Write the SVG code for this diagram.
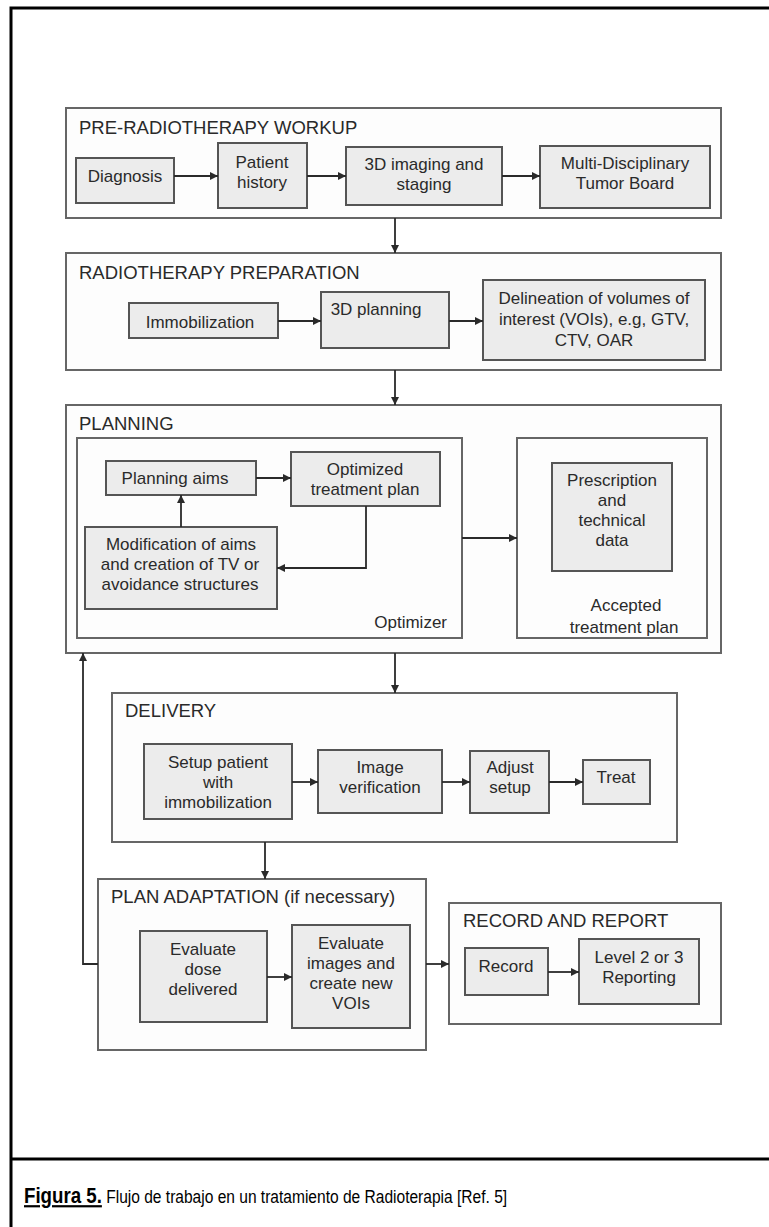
<svg xmlns="http://www.w3.org/2000/svg" width="769" height="1227" viewBox="0 0 769 1227">
<style>
.sec{fill:#fdfdfd;stroke:#666;stroke-width:2}
.box{fill:#ececec;stroke:#555;stroke-width:2}
.t{font-family:"Liberation Sans",Arial,sans-serif;font-size:17px;fill:#2a2a2a;text-anchor:middle}
.h{font-family:"Liberation Sans",Arial,sans-serif;font-size:18.5px;fill:#2a2a2a}
.c{fill:none;stroke:#2a2a2a;stroke-width:1.8}
.cap{font-family:"Liberation Sans Narrow","Liberation Sans",Arial,sans-serif;font-size:18.3px;fill:#000}
</style>
<defs>
<marker id="ah" viewBox="0 0 10 10" refX="10" refY="5" markerWidth="9" markerHeight="8" markerUnits="userSpaceOnUse" orient="auto"><path d="M0,0 L10,5 L0,10 z" fill="#2a2a2a"/></marker>
</defs>
<rect width="769" height="1227" fill="#fff"/>
<g id="frame">
<path d="M11,1227 V8 H769" fill="none" stroke="#000" stroke-width="3"/>
<path d="M11,1159 H769" fill="none" stroke="#000" stroke-width="3"/>
</g>

<g id="pre">
<rect class="sec" x="66" y="108" width="655" height="110"/>
<text class="h" x="79" y="134">PRE-RADIOTHERAPY WORKUP</text>
</g>
<g id="diagnosis"><rect class="box" x="76" y="158" width="98" height="45"/><text class="t" x="125" y="182">Diagnosis</text></g>
<g id="history"><rect class="box" x="218" y="143" width="89" height="65"/><text class="t" x="262" y="168">Patient</text><text class="t" x="262" y="188">history</text></g>
<g id="imaging"><rect class="box" x="346" y="147" width="156" height="58"/><text class="t" x="424" y="170">3D imaging and</text><text class="t" x="424" y="190">staging</text></g>
<g id="board"><rect class="box" x="540" y="146" width="170" height="62"/><text class="t" x="625" y="169">Multi-Disciplinary</text><text class="t" x="625" y="189">Tumor Board</text></g>

<g id="prep">
<rect class="sec" x="66" y="253" width="655" height="117"/>
<text class="h" x="79" y="279">RADIOTHERAPY PREPARATION</text>
</g>
<g id="immobilization"><rect class="box" x="129" y="303" width="149" height="35"/><text class="t" x="200" y="328">Immobilization</text></g>
<g id="planning3d"><rect class="box" x="321" y="292" width="128" height="56"/><text class="t" x="376" y="315">3D planning</text></g>
<g id="delineation"><rect class="box" x="483" y="280" width="222" height="80"/><text class="t" x="594" y="304">Delineation of volumes of</text><text class="t" x="594" y="325">interest (VOIs), e.g, GTV,</text><text class="t" x="594" y="346">CTV, OAR</text></g>

<g id="planning">
<rect class="sec" x="66" y="405" width="655" height="248"/>
<text class="h" x="79" y="430">PLANNING</text>
</g>
<g id="optimizer"><rect class="sec" x="77" y="438" width="385" height="200"/><text class="t" x="447" y="628" style="text-anchor:end">Optimizer</text></g>
<g id="accepted"><rect class="sec" x="517" y="438" width="190" height="200"/><text class="t" x="626" y="611">Accepted</text><text class="t" x="624" y="633">treatment plan</text></g>
<g id="aims"><rect class="box" x="106" y="461" width="150" height="34"/><text class="t" x="175" y="484">Planning aims</text></g>
<g id="optimized"><rect class="box" x="291" y="452" width="149" height="54"/><text class="t" x="365" y="475">Optimized</text><text class="t" x="365" y="495">treatment plan</text></g>
<g id="modification"><rect class="box" x="85" y="527" width="192" height="82"/><text class="t" x="181" y="550">Modification of aims</text><text class="t" x="180" y="570">and creation of TV or</text><text class="t" x="180" y="590">avoidance structures</text></g>
<g id="prescription"><rect class="box" x="552" y="463" width="120" height="108"/><text class="t" x="612" y="486">Prescription</text><text class="t" x="612" y="506">and</text><text class="t" x="612" y="526">technical</text><text class="t" x="612" y="546">data</text></g>

<g id="delivery">
<rect class="sec" x="112" y="693" width="565" height="149"/>
<text class="h" x="125" y="717">DELIVERY</text>
</g>
<g id="setup"><rect class="box" x="144" y="744" width="148" height="75"/><text class="t" x="218" y="768">Setup patient</text><text class="t" x="218" y="788">with</text><text class="t" x="218" y="808">immobilization</text></g>
<g id="verification"><rect class="box" x="318" y="750" width="124" height="63"/><text class="t" x="380" y="773">Image</text><text class="t" x="380" y="793">verification</text></g>
<g id="adjust"><rect class="box" x="470" y="751" width="79" height="62"/><text class="t" x="510" y="773">Adjust</text><text class="t" x="510" y="793">setup</text></g>
<g id="treat"><rect class="box" x="583" y="760" width="67" height="44"/><text class="t" x="616" y="783">Treat</text></g>

<g id="adaptation">
<rect class="sec" x="98" y="879" width="328" height="171"/>
<text class="h" x="111" y="903">PLAN ADAPTATION (if necessary)</text>
</g>
<g id="evaldose"><rect class="box" x="140" y="931" width="127" height="91"/><text class="t" x="203" y="955">Evaluate</text><text class="t" x="203" y="975">dose</text><text class="t" x="203" y="995">delivered</text></g>
<g id="evalimages"><rect class="box" x="292" y="925" width="118" height="103"/><text class="t" x="351" y="949">Evaluate</text><text class="t" x="351" y="969">images and</text><text class="t" x="351" y="989">create new</text><text class="t" x="351" y="1009">VOIs</text></g>

<g id="report">
<rect class="sec" x="449" y="903" width="272" height="121"/>
<text class="h" x="463" y="927">RECORD AND REPORT</text>
</g>
<g id="record"><rect class="box" x="465" y="948" width="83" height="47"/><text class="t" x="506" y="972">Record</text></g>
<g id="level"><rect class="box" x="579" y="939" width="120" height="65"/><text class="t" x="639" y="963">Level 2 or 3</text><text class="t" x="639" y="983">Reporting</text></g>

<g id="connectors">
<path class="c" d="M174,176 H218" marker-end="url(#ah)"/>
<path class="c" d="M307,176 H346" marker-end="url(#ah)"/>
<path class="c" d="M502,176 H540" marker-end="url(#ah)"/>
<path class="c" d="M395,218 V253" marker-end="url(#ah)"/>
<path class="c" d="M278,321 H321" marker-end="url(#ah)"/>
<path class="c" d="M449,321 H483" marker-end="url(#ah)"/>
<path class="c" d="M395,370 V405" marker-end="url(#ah)"/>
<path class="c" d="M256,478 H291" marker-end="url(#ah)"/>
<path class="c" d="M181,527 V495" marker-end="url(#ah)"/>
<path class="c" d="M366,506 V568 H277" marker-end="url(#ah)"/>
<path class="c" d="M462,538 H517" marker-end="url(#ah)"/>
<path class="c" d="M395,653 V693" marker-end="url(#ah)"/>
<path class="c" d="M292,782 H318" marker-end="url(#ah)"/>
<path class="c" d="M442,782 H470" marker-end="url(#ah)"/>
<path class="c" d="M549,782 H583" marker-end="url(#ah)"/>
<path class="c" d="M265,842 V879" marker-end="url(#ah)"/>
<path class="c" d="M267,977 H292" marker-end="url(#ah)"/>
<path class="c" d="M98,964 H83 V653" marker-end="url(#ah)"/>
<path class="c" d="M426,964 H449" marker-end="url(#ah)"/>
<path class="c" d="M548,972 H579" marker-end="url(#ah)"/>
</g>

<g id="caption">
<text class="cap" transform="translate(24,1203) scale(0.85,1)" x="0" y="0"><tspan font-weight="bold" font-size="22" text-decoration="underline">Figura 5.</tspan> Flujo de trabajo en un tratamiento de Radioterapia [Ref. 5]</text>
</g>
</svg>
